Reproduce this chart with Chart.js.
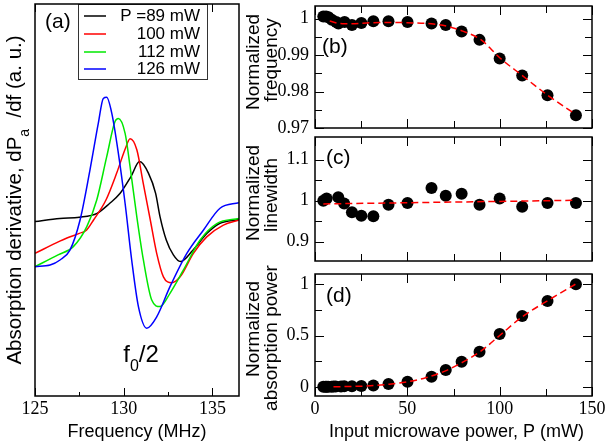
<!DOCTYPE html>
<html>
<head>
<meta charset="utf-8">
<script src="https://cdn.jsdelivr.net/npm/chart.js@4"></script>
<style>
  html, body { margin: 0; padding: 0; background: #fff; }
  #wrap { position: relative; width: 606px; height: 444px; }
  canvas { position: absolute; left: 0; top: 0; }
</style>
</head>
<body>
<div id="wrap">
  <canvas id="chartA" width="606" height="444"></canvas>
  <canvas id="chartB" width="606" height="444"></canvas>
  <canvas id="chartC" width="606" height="444"></canvas>
  <canvas id="chartD" width="606" height="444"></canvas>
</div>
<script>
// (a) absorption derivative spectra, arbitrary units
const freq89 = [125.0, 126.4, 127.5, 128.5, 129.2, 129.8, 130.4, 130.9, 131.4, 131.8, 132.05, 132.4, 132.8, 133.2, 133.9, 134.7, 135.4, 136.5];
const deriv89 = [44.5, 45.3, 45.6, 46.6, 49.1, 51.7, 55.9, 59.8, 56.8, 51.7, 45.7, 39.8, 36.0, 34.3, 37.2, 41.5, 44.0, 45.0];
const freq100 = [125.0, 126.4, 126.8, 127.5, 127.9, 128.3, 129.0, 129.6, 130.1, 130.36, 130.74, 131.1, 131.5, 131.86, 132.24, 132.71, 133.18, 133.93, 134.68, 135.62, 136.5];
const deriv100 = [36.4, 39.5, 40.3, 41.5, 42.3, 44.9, 50.0, 56.8, 63.2, 65.6, 62.8, 54.3, 44.9, 36.4, 30.4, 28.9, 30.4, 36.4, 40.6, 43.6, 44.9];
const freq112 = [125.0, 126.3, 127.16, 127.92, 128.48, 129.04, 129.51, 129.7, 130.08, 130.36, 130.74, 131.11, 131.58, 132.05, 132.61, 133.36, 134.31, 135.25, 136.5];
const deriv112 = [33.0, 36.0, 38.1, 43.2, 50.0, 61.0, 70.0, 70.8, 67.0, 58.5, 45.7, 34.7, 24.5, 22.8, 26.2, 32.1, 39.8, 44.0, 45.3];
const freq126 = [125.0, 125.85, 126.41, 126.97, 127.54, 128.1, 128.57, 128.85, 129.04, 129.33, 129.7, 130.08, 130.45, 130.83, 131.3, 131.86, 132.61, 133.56, 134.49, 135.43, 136.5];
const deriv126 = [33.0, 33.4, 34.7, 37.2, 44.9, 57.7, 69.6, 75.9, 76.2, 72.1, 61.9, 49.1, 34.7, 22.8, 17.3, 20.2, 27.9, 36.4, 42.3, 47.9, 49.3];
const spectrumLabels = ['P =89 mW', '100 mW', '112 mW', '126 mW'];

// (b) normalized frequency
const powerB = [4.5, 6, 7.3, 9.1, 11.5, 12.7, 16, 20, 25.1, 31.6, 39.8, 50.1, 63.1, 70.8, 79.4, 89.1, 100, 112.2, 125.9, 141.3];
const normFreq = [1.0006, 1.0006, 1.0004, 0.9997, 0.9991, 0.9987, 0.9991, 0.9983, 0.9988, 0.9993, 0.9993, 0.9991, 0.9987, 0.9983, 0.9965, 0.9942, 0.9891, 0.9844, 0.9790, 0.9735];
const fitPowerB = [8, 12, 16, 20, 30, 40, 50, 63, 71, 80, 90, 100, 112, 126, 141];
const fitNormFreq = [0.9994, 0.9988, 0.9986, 0.9986, 0.9989, 0.9990, 0.9989, 0.9986, 0.9980, 0.9966, 0.9942, 0.9893, 0.9845, 0.9790, 0.9738];

// (c) normalized linewidth
const powerC = [4.5, 6.3, 12.6, 15.8, 20, 25.1, 31.6, 39.8, 50.1, 63.1, 70.8, 79.4, 89.1, 100, 112.2, 125.9, 141.3];
const normWidth = [1.000, 1.005, 1.008, 0.993, 0.972, 0.963, 0.962, 0.990, 0.994, 1.031, 1.012, 1.017, 0.990, 1.005, 0.985, 0.994, 0.994];
const fitPowerC = [4.5, 141.3];
const fitNormWidth = [0.992, 1.0008];

// (d) normalized absorption power
const powerD = [4.5, 5.6, 6.3, 7.1, 8.9, 10, 11.2, 14.1, 15.8, 20, 25.1, 31.6, 39.8, 50.1, 63.1, 70.8, 79.4, 89.1, 100, 112.2, 125.9, 141.3];
const normAbs = [0, 0, 0, 0, 0.001, 0.002, 0.002, 0.003, 0.004, 0.005, 0.008, 0.013, 0.026, 0.049, 0.098, 0.163, 0.244, 0.342, 0.515, 0.69, 0.837, 1.0];
const fitPowerD = [10, 20, 30, 40, 50, 60, 70, 80, 90, 100, 112, 126, 141];
const fitNormAbs = [0, 0.003, 0.01, 0.025, 0.048, 0.088, 0.15, 0.24, 0.35, 0.5, 0.68, 0.84, 1.0];

// tick values
const freqTicks = [125, 130, 135];
const freqMinor = [127.5, 132.5];
const powerTicks = [0, 50, 100, 150];
const powerMinor = [25, 75, 125];
const freqNormTicks = [0.97, 0.98, 0.99, 1];
const freqNormMinor = [0.975, 0.985, 0.995];
const widthTicks = [0.9, 1, 1.1];
const widthMinor = [0.95, 1.05];
const absTicks = [0, 0.5, 1];
const absMinor = [0.25, 0.75];

const SANS = '"Liberation Sans", Arial, sans-serif';
const SERIF = '"Liberation Serif", "Times New Roman", serif';

const toXY = (xs, ys) => xs.map((v, i) => ({ x: v, y: ys[i] }));

function drawRich(ctx, parts, cx, cy, size, rotate) {
  ctx.save();
  ctx.translate(cx, cy);
  if (rotate) ctx.rotate(-Math.PI / 2);
  const big = size + 'px ' + SANS;
  const small = Math.round(size * 0.68) + 'px ' + SANS;
  let w = 0;
  parts.forEach(p => { ctx.font = p.sub ? small : big; w += ctx.measureText(p.t).width; });
  let x = -w / 2;
  ctx.textAlign = 'left';
  ctx.textBaseline = 'middle';
  ctx.fillStyle = '#000';
  parts.forEach(p => {
    ctx.font = p.sub ? small : big;
    ctx.fillText(p.t, x, p.sub ? size * 0.5 : 0);
    x += ctx.measureText(p.t).width;
  });
  ctx.restore();
}

// frame with inward ticks on every side, labels, titles
const panelFrame = {
  id: 'panelFrame',
  afterDraw(chart, args, o) {
    const { ctx, chartArea: a } = chart;
    const xs = chart.scales.x, ys = chart.scales.y;
    ctx.save();
    ctx.strokeStyle = '#000';
    ctx.lineWidth = 1;
    const xt = (vals, len) => vals.forEach(v => {
      const p = Math.round(xs.getPixelForValue(v)) + 0.5;
      ctx.beginPath();
      ctx.moveTo(p, a.bottom); ctx.lineTo(p, a.bottom - len);
      ctx.moveTo(p, a.top); ctx.lineTo(p, a.top + len);
      ctx.stroke();
    });
    const yt = (vals, len) => vals.forEach(v => {
      const p = Math.round(ys.getPixelForValue(v)) + 0.5;
      ctx.beginPath();
      ctx.moveTo(a.left, p); ctx.lineTo(a.left + len, p);
      if (!o.noRightTicks) { ctx.moveTo(a.right, p); ctx.lineTo(a.right - len, p); }
      ctx.stroke();
    });
    xt(o.xMajor || [], o.majorLen);
    xt(o.xMinor || [], o.minorLen);
    yt(o.yMajor || [], o.majorLen);
    yt(o.yMinor || [], o.minorLen);

    // legend box
    if (o.legend) {
      const L = o.legend;
      ctx.fillStyle = '#fff';
      ctx.fillRect(L.left, L.top, L.right - L.left, L.bottom - L.top);
      ctx.strokeStyle = '#333';
      ctx.strokeRect(L.left + 0.5, L.top + 0.5, L.right - L.left, L.bottom - L.top);
      ctx.font = '17px ' + SANS;
      ctx.textAlign = 'right';
      ctx.textBaseline = 'middle';
      ctx.lineWidth = 1.5;
      L.rows.forEach((yy, i) => {
        const ds = chart.data.datasets[i];
        ctx.strokeStyle = ds.borderColor;
        ctx.beginPath(); ctx.moveTo(84, yy); ctx.lineTo(106, yy); ctx.stroke();
        ctx.fillStyle = '#000';
        ctx.fillText(ds.label, L.textRight, yy);
      });
    }

    ctx.strokeStyle = '#000';
    ctx.lineWidth = 1.5;
    ctx.strokeRect(a.left, a.top, a.right - a.left, a.bottom - a.top);

    ctx.fillStyle = '#000';
    ctx.font = '18px ' + SERIF;
    if (o.xLabels) {
      ctx.textAlign = 'center'; ctx.textBaseline = 'top';
      o.xMajor.forEach(v => ctx.fillText(String(v), xs.getPixelForValue(v), a.bottom + 4));
    }
    if (o.yLabels) {
      ctx.textAlign = 'right'; ctx.textBaseline = 'middle';
      o.yMajor.forEach(v => ctx.fillText(String(v), a.left - 6, ys.getPixelForValue(v)));
    }
    if (o.xTitle) {
      ctx.font = '18px ' + SANS;
      ctx.textAlign = 'center'; ctx.textBaseline = 'middle';
      ctx.fillText(o.xTitle, (a.left + a.right) / 2 + (o.xTitleShift || 0), 432);
    }
    if (o.yTitle) {
      o.yTitle.forEach((line, i) => drawRich(ctx, line, o.yTitleX[i], o.yTitleY[i], o.yTitleSize || 19, true));
    }
    if (o.tag) {
      ctx.font = '21px ' + SANS;
      ctx.textAlign = 'left'; ctx.textBaseline = 'middle';
      ctx.fillText(o.tag, o.tagX, o.tagY);
    }
    if (o.note) drawRich(ctx, o.note, o.noteX, o.noteY, 24, false);
    ctx.restore();
  }
};

function pad(l, t, r, b) {
  return { left: l, top: t, right: 606 - r, bottom: 444 - b };
}

function scales(xmin, xmax, ymin, ymax) {
  return {
    x: { type: 'linear', min: xmin, max: xmax, display: false },
    y: { type: 'linear', min: ymin, max: ymax, display: false }
  };
}

// ---- panel (a)
const spectra = [
  { f: freq89, d: deriv89, c: '#000000' },
  { f: freq100, d: deriv100, c: '#ff0000' },
  { f: freq112, d: deriv112, c: '#00e800' },
  { f: freq126, d: deriv126, c: '#0000ff' }
];
new Chart(document.getElementById('chartA'), {
  type: 'scatter',
  data: {
    datasets: spectra.map((s, i) => ({
      label: spectrumLabels[i],
      data: toXY(s.f, s.d),
      showLine: true,
      borderColor: s.c,
      borderWidth: 1.5,
      pointRadius: 0,
      cubicInterpolationMode: 'monotone',
      order: 3 - i
    }))
  },
  options: {
    responsive: false,
    animation: false,
    layout: { padding: pad(35, 4, 239, 396) },
    scales: scales(125, 136.5, 0, 100),
    plugins: {
      legend: { display: false },
      tooltip: { enabled: false },
      panelFrame: {
        xMajor: freqTicks, xMinor: freqMinor, majorLen: 8, minorLen: 4,
        noRightTicks: true, xLabels: true,
        xTitle: 'Frequency (MHz)', xTitleShift: 0,
        yTitle: [[{ t: 'Absorption derivative, dP' }, { t: 'a', sub: true }, { t: '  /df (a. u.)' }]],
        yTitleX: [15], yTitleY: [200], yTitleSize: 20.5,
        tag: '(a)', tagX: 45, tagY: 22,
        note: [{ t: 'f' }, { t: '0', sub: true }, { t: '/2' }], noteX: 141, noteY: 355,
        legend: { left: 78, top: 4, right: 207, bottom: 79, textRight: 200, rows: [16, 34, 52, 69] }
      }
    }
  },
  plugins: [panelFrame]
});

// ---- panels (b)-(d)
function powerPanel(id, px, py, fx, fy, box, yr, opts) {
  new Chart(document.getElementById(id), {
    type: 'scatter',
    data: {
      datasets: [
        {
          data: toXY(fx, fy), showLine: true, borderColor: '#ff0000', borderWidth: 1.5,
          borderDash: [7, 4], pointRadius: 0, cubicInterpolationMode: 'monotone', order: 0
        },
        {
          data: toXY(px, py), pointRadius: 6, backgroundColor: '#000', borderWidth: 0, order: 1
        }
      ]
    },
    options: {
      responsive: false,
      animation: false,
      layout: { padding: pad(box[0], box[1], box[2], box[3]) },
      scales: scales(0, 150, yr[0], yr[1]),
      plugins: {
        legend: { display: false },
        tooltip: { enabled: false },
        panelFrame: Object.assign({
          xMajor: powerTicks, xMinor: powerMinor, majorLen: 9, minorLen: 7, yLabels: true
        }, opts)
      }
    },
    plugins: [panelFrame]
  });
}

powerPanel('chartB', powerB, normFreq, fitPowerB, fitNormFreq, [315, 5, 592, 128], [0.97, 1.0035], {
  yMajor: freqNormTicks, yMinor: freqNormMinor,
  yTitle: [[{ t: 'Normalized' }], [{ t: 'frequency' }]], yTitleX: [254, 272], yTitleY: [62, 60],
  tag: '(b)', tagX: 322, tagY: 47
});

powerPanel('chartC', powerC, normWidth, fitPowerC, fitNormWidth, [315, 137, 592, 261], [0.853, 1.155], {
  yMajor: widthTicks, yMinor: widthMinor,
  yTitle: [[{ t: 'Normalized' }], [{ t: 'linewidth' }]], yTitleX: [254, 272], yTitleY: [193, 195],
  tag: '(c)', tagX: 326, tagY: 158
});

powerPanel('chartD', powerD, normAbs, fitPowerD, fitNormAbs, [315, 274, 592, 396], [-0.09, 1.1], {
  yMajor: absTicks, yMinor: absMinor, xLabels: true,
  xTitle: 'Input microwave power, P (mW)', xTitleShift: 3,
  yTitle: [[{ t: 'Normalized' }], [{ t: 'absorption power' }]], yTitleX: [254, 272], yTitleY: [329, 338],
  tag: '(d)', tagX: 326, tagY: 296
});
</script>
</body>
</html>
